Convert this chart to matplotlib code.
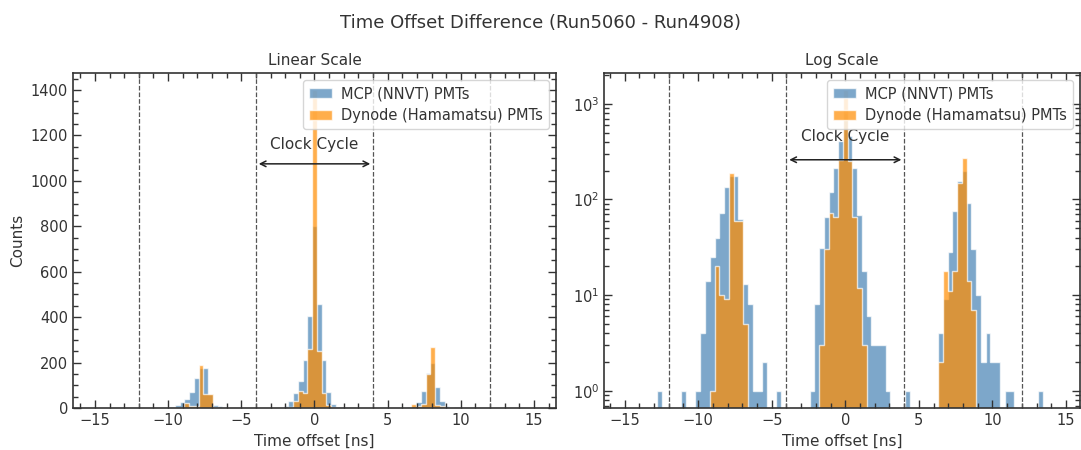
import numpy as np
import matplotlib
matplotlib.use("Agg")
import matplotlib.pyplot as plt
from matplotlib.ticker import AutoMinorLocator, MultipleLocator, LogLocator

# histogram binning used for both PMT types (99 bins between -16 and 16 ns)
bin_edges = np.linspace(-16, 16, 100)

# counts per bin (bin index -> count, grouped by clock cycle)
mcp_left_start = 10
mcp_left = [1, 0, 0, 0, 0, 1, 0, 0, 1, 4, 14, 25, 40, 72, 134, 175, 175, 62, 13, 8, 1, 1, 2, 0, 0, 1]
mcp_mid_start = 42
mcp_mid = [1, 8, 31, 65, 120, 211, 405, 800, 460, 211, 69, 18, 6, 3, 3, 3, 1]
mcp_right_start = 62
mcp_right = [1, 0, 0, 0, 0, 0, 0, 4, 9, 28, 75, 155, 200, 92, 30, 10, 2, 4, 2, 2, 0, 1, 1, 0, 0, 0, 0, 0, 1]

dyn_left_start = 21
dyn_left = [1, 20, 10, 9, 190, 60, 60, 5]
dyn_mid_start = 44
dyn_mid = [3, 30, 73, 65, 260, 1400, 250, 66, 12, 3]
dyn_right_start = 69
dyn_right = [2, 18, 11, 18, 150, 270, 14, 7]

clock_lines = [-12, -4, 4, 12]
labels = ['MCP (NNVT) PMTs', 'Dynode (Hamamatsu) PMTs']


def fill_counts(parts):
    c = np.zeros(len(bin_edges) - 1)
    for start, vals in parts:
        c[start:start + len(vals)] = vals
    return c


mcp_counts = fill_counts([(mcp_left_start, mcp_left), (mcp_mid_start, mcp_mid), (mcp_right_start, mcp_right)])
dyn_counts = fill_counts([(dyn_left_start, dyn_left), (dyn_mid_start, dyn_mid), (dyn_right_start, dyn_right)])
centers = 0.5 * (bin_edges[1:] + bin_edges[:-1])

plt.rcParams['font.family'] = 'DejaVu Sans'
text_col = '#333333'
plt.rcParams['text.color'] = text_col
plt.rcParams['axes.labelcolor'] = text_col
plt.rcParams['xtick.color'] = text_col
plt.rcParams['ytick.color'] = text_col

W, H = 1081, 450
fig = plt.figure(figsize=(W / 100, H / 100), dpi=100)
ax1 = fig.add_axes([73 / W, 42 / H, 483 / W, 335 / H])
ax2 = fig.add_axes([604 / W, 42 / H, 476 / W, 335 / H])


def draw(ax):
    ax.hist(centers, bins=bin_edges, weights=mcp_counts, histtype='stepfilled',
            color='steelblue', alpha=0.7, edgecolor='white', linewidth=1.0, label=labels[0])
    ax.hist(centers, bins=bin_edges, weights=dyn_counts, histtype='stepfilled',
            color='darkorange', alpha=0.7, edgecolor='white', linewidth=1.0, label=labels[1])
    for xl in clock_lines:
        ax.axvline(xl, color='#555555', ls='--', lw=0.9)
    ax.set_xlabel('Time offset [ns]', fontsize=11)
    ax.tick_params(which='both', direction='in', top=True, right=True, labelsize=10.5)
    ax.tick_params(which='major', length=6, width=1)
    ax.tick_params(which='minor', length=3.5, width=1)
    ax.xaxis.set_major_locator(MultipleLocator(5))
    ax.xaxis.set_minor_locator(MultipleLocator(1))
    for s in ax.spines.values():
        s.set_color('#333333')
        s.set_linewidth(1.2)
    leg = ax.legend(loc='upper right', fontsize=10.5, framealpha=0.8, borderpad=0.4,
                    handlelength=1.6, handletextpad=0.6)
    leg.get_frame().set_edgecolor('#cccccc')


draw(ax1)
ax1.set_xlim(-16.5, 16.5)
ax1.set_ylim(0, 1475)
ax1.yaxis.set_minor_locator(AutoMinorLocator(4))
ax1.set_ylabel('Counts', fontsize=11)
ax1.set_title('Linear Scale', fontsize=11, color=text_col)
ax1.annotate('', xy=(-4, 1075), xytext=(4, 1075),
             arrowprops=dict(arrowstyle='<->', color='#222222', lw=1.1))
ax1.text(0, 1160, 'Clock Cycle', ha='center', va='center', fontsize=11)

draw(ax2)
ax2.set_yscale('log')
ax2.set_xlim(-16.4, 15.95)
ax2.set_ylim(0.66, 2100)
ax2.yaxis.set_major_locator(LogLocator(base=10))
ax2.yaxis.set_minor_locator(LogLocator(base=10, subs=np.arange(2, 10)))
ax2.set_title('Log Scale', fontsize=11, color=text_col)
ax2.annotate('', xy=(-4, 260), xytext=(4, 260),
             arrowprops=dict(arrowstyle='<->', color='#222222', lw=1.1))
ax2.text(0, 450, 'Clock Cycle', ha='center', va='center', fontsize=11)

fig.suptitle('Time Offset Difference (Run5060 - Run4908)', fontsize=13, y=0.97, color=text_col)

fig.savefig('out.png', dpi=100)
